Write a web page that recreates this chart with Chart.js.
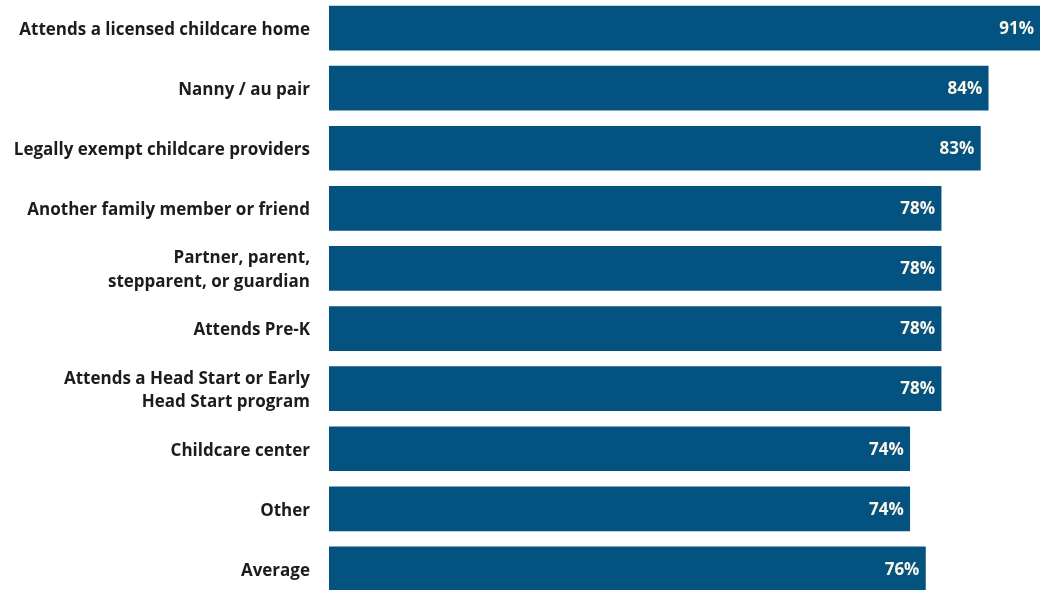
<!DOCTYPE html>
<html>
<head>
<meta charset="utf-8">
<script src="https://cdn.jsdelivr.net/npm/chart.js@4"></script>
<style>
  html, body { margin: 0; padding: 0; background: #fff; overflow: hidden; }
  #wrap { position: absolute; left: 0; top: -2px; width: 1040px; height: 601px; }
</style>
</head>
<body>
<div id="wrap"><canvas id="graphCanvas"></canvas></div>
<script>
// Kategoriler ve değerler
const categories = [
    'Attends a licensed childcare home',
    'Nanny / au pair',
    'Legally exempt childcare providers',
    'Another family member or friend',
    ['Partner, parent,', 'stepparent, or guardian'],
    'Attends Pre-K',
    ['Attends a Head Start or Early', 'Head Start program'],
    'Childcare center',
    'Other',
    'Average'
];
const values = [91, 84, 83, 78, 78, 78, 78, 74, 74, 76];

// Bar ucuna yüzde etiketleri
const valueLabels = {
    id: 'valueLabels',
    afterDatasetsDraw(chart) {
        const ctx = chart.ctx;
        const meta = chart.getDatasetMeta(0);
        ctx.save();
        ctx.font = 'bold 17px "Open Sans"';
        ctx.fillStyle = '#fdf6ea';
        ctx.textAlign = 'right';
        ctx.textBaseline = 'middle';
        meta.data.forEach((bar, i) => {
            const x = Math.min(bar.x, chart.chartArea.right) - 6;
            ctx.fillText(values[i] + '%', x, bar.y + 1);
        });
        ctx.restore();
    }
};

const ctx = document.getElementById('graphCanvas').getContext('2d');
window.myChart = new Chart(ctx, {
    type: 'bar',
    data: {
        labels: categories,
        datasets: [{
            data: values,
            backgroundColor: '#03527f',
            barThickness: 44
        }]
    },
    options: {
        indexAxis: 'y',
        responsive: true,
        maintainAspectRatio: false,
        animation: false,
        layout: { padding: 0 },
        plugins: {
            legend: { display: false },
            tooltip: { enabled: false }
        },
        scales: {
            x: {
                min: 0,
                max: 90.6,
                display: false
            },
            y: {
                grid: { display: false },
                border: { display: false },
                afterFit(scale) {
                    scale.width = 329;
                    scale.paddingTop = 0;
                    scale.paddingBottom = 0;
                },
                ticks: {
                    padding: 11,
                    labelOffset: 2,
                    color: '#1c1c1c',
                    font: { family: 'Open Sans', size: 17, weight: 'bold', lineHeight: 1.4 }
                }
            }
        }
    },
    plugins: [valueLabels]
});
</script>
</body>
</html>
